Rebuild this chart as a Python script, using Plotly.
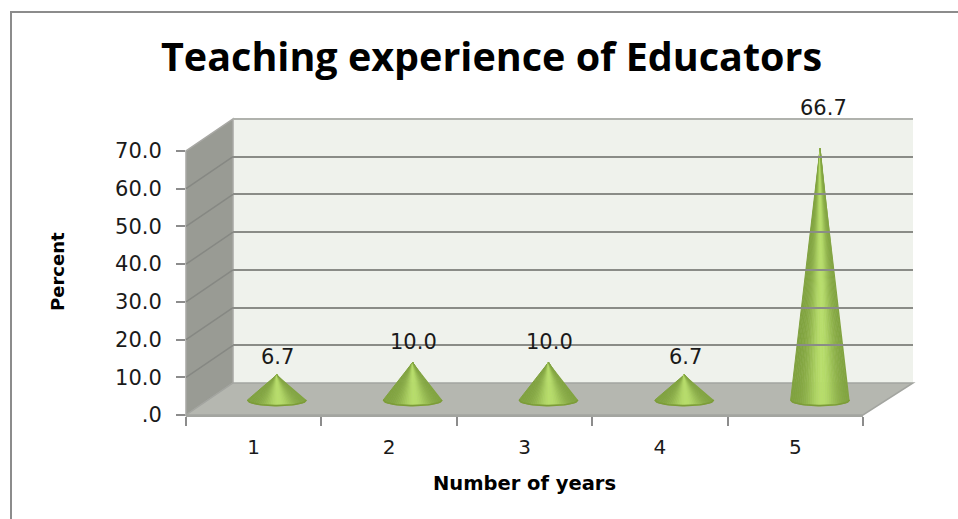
import numpy as np
import plotly.graph_objects as go

categories = ["1", "2", "3", "4", "5"]
percent = [6.7, 10.0, 10.0, 6.7, 66.7]
label_text = ["6.7", "10.0", "10.0", "6.7", "66.7"]
y_ticks = [0, 10, 20, 30, 40, 50, 60, 70]
y_tick_text = [".0", "10.0", "20.0", "30.0", "40.0", "50.0", "60.0", "70.0"]
label_gap_px = [3, 5, 5, 3, 25]

W, H = 958, 519
px = lambda x: x / W
py = lambda y: 1 - y / H

FL, FR, F0, F70 = 186, 863, 415, 151   # front plane
DX, DY = 47, 32                        # depth of the box
GREY_TXT = "#1a1a1a"

fig = go.Figure()

# invisible trace to populate the category axis
fig.add_trace(go.Scatter(x=categories, y=percent, mode="markers",
                         marker=dict(opacity=0), xaxis="x", yaxis="y",
                         hoverinfo="skip", showlegend=False))

# native gridlines on the back wall plane
fig.add_trace(go.Scatter(x=[0], y=[0], mode="markers", marker=dict(opacity=0),
                         xaxis="x3", yaxis="y3", hoverinfo="skip", showlegend=False))

# cones, drawn as shaded strips
HALF_W = 0.217
RY = 1.5
N = 30
edges = np.linspace(-1, 1, N + 1)
centers = (edges[:-1] + edges[1:]) / 2
dark = np.array([128, 162, 64])
light = np.array([184, 222, 108])
for k in range(N):
    t0, t1 = edges[k], edges[k + 1]
    tc = centers[k]
    w = np.exp(-((tc - 0.08) / 0.5) ** 2)
    col = dark + (light - dark) * w
    xs, ys = [], []
    for i, v in enumerate(percent):
        xs += [i + 1, i + 1 + HALF_W * t0, i + 1 + HALF_W * t1, None]
        ys += [v, -RY * np.sqrt(max(0, 1 - t0 ** 2)), -RY * np.sqrt(max(0, 1 - t1 ** 2)), None]
    c = "rgb(%d,%d,%d)" % tuple(col)
    fig.add_trace(go.Scatter(x=xs, y=ys, mode="lines", fill="toself", fillcolor=c,
                             line=dict(width=1, color=c),
                             xaxis="x2", yaxis="y2", hoverinfo="skip", showlegend=False))

# base rim of each cone
tt = np.linspace(-1, 1, 31)
xs, ys = [], []
for i in range(len(percent)):
    xs += list(i + 1 + HALF_W * tt) + [None]
    ys += list(-RY * np.sqrt(1 - tt ** 2)) + [None]
fig.add_trace(go.Scatter(x=xs, y=ys, mode="lines", line=dict(width=1.6, color="#7c9c38"),
                         xaxis="x2", yaxis="y2", hoverinfo="skip", showlegend=False))

# data labels
annotations = []
for i, v in enumerate(percent):
    annotations.append(dict(x=i + 1, y=v, xref="x2", yref="y2", text=label_text[i],
                            showarrow=False, xanchor="center", yanchor="bottom",
                            yshift=label_gap_px[i] + 1, xshift=3 if v > 50 else 1,
                            font=dict(family="DejaVu Sans", size=21, color=GREY_TXT)))

annotations += [
    dict(x=px(491), y=py(56), xref="paper", yref="paper", text="<b>Teaching experience of Educators</b>",
         showarrow=False, xanchor="center", yanchor="middle",
         font=dict(family="Open Sans", size=39.5, color="#000000")),
    dict(x=px(524), y=py(483), xref="paper", yref="paper", text="<b>Number of years</b>",
         showarrow=False, xanchor="center", yanchor="middle",
         font=dict(family="DejaVu Sans", size=19.5, color="#000000")),
    dict(x=px(57), y=py(272), xref="paper", yref="paper", text="<b>Percent</b>", textangle=-90,
         showarrow=False, xanchor="center", yanchor="middle",
         font=dict(family="DejaVu Sans", size=18, color="#000000")),
]

def poly(pts):
    return "M " + " L ".join("%.5f,%.5f" % (px(x), py(y)) for x, y in pts) + " Z"

shapes = [
    # outer frame
    dict(type="path", xref="paper", yref="paper", layer="below",
         path="M %.5f,0 L %.5f,%.5f L 1,%.5f" % (px(11), px(11), py(12), py(12)),
         line=dict(color="#8c8c8c", width=2)),
    # back wall
    dict(type="rect", xref="paper", yref="paper", layer="below",
         x0=px(FL + DX), x1=px(FR + DX + 3), y0=py(F0 - DY), y1=py(F70 - DY),
         fillcolor="#eff2ec", line=dict(width=0)),
    # side wall
    dict(type="path", xref="paper", yref="paper", layer="below",
         path=poly([(FL, F0), (FL + DX, F0 - DY), (FL + DX, F70 - DY), (FL, F70)]),
         fillcolor="#999b94", line=dict(color="#a8a8a4", width=1.5)),
    # floor
    dict(type="path", xref="paper", yref="paper", layer="below",
         path=poly([(FL, F0), (FL + DX, F0 - DY), (FR + DX + 3, F0 - DY), (FR, F0)]),
         fillcolor="#b5b7b0", line=dict(color="#a3a5a0", width=1.5)),
    # lighter top edge of the back wall
    dict(type="line", xref="paper", yref="paper", layer="below",
         x0=px(FL + DX), x1=px(FR + DX + 3), y0=py(F70 - DY), y1=py(F70 - DY),
         line=dict(color="#b0b2ad", width=2)),
]
# side-wall gridlines, one for each axis value
for v in y_ticks[1:-1]:
    y = F0 + (F70 - F0) * v / 70
    shapes.append(dict(type="line", xref="paper", yref="paper", layer="below",
                       x0=px(FL), y0=py(y), x1=px(FL + DX), y1=py(y - DY),
                       line=dict(color="#868883", width=1.5)))

U = (F0 - F70) / 70  # pixels per percent
fig.update_layout(
    width=W, height=H, autosize=False,
    margin=dict(l=0, r=0, t=0, b=0, pad=0, autoexpand=False),
    paper_bgcolor="#ffffff", plot_bgcolor="rgba(0,0,0,0)",
    showlegend=False, annotations=annotations, shapes=shapes,
    xaxis=dict(type="category", categoryorder="array", categoryarray=categories,
               domain=[px(FL), px(FR)], anchor="y", range=[-0.5, 4.5], tickson="boundaries",
               ticks="outside", ticklen=9, tickwidth=2, tickcolor="#8c8c8c",
               showline=True, linecolor="#a3a5a0", linewidth=2, showgrid=False, zeroline=False,
               tickfont=dict(family="DejaVu Sans", size=20, color=GREY_TXT), ticklabelstandoff=13),
    yaxis=dict(domain=[py(F0), py(F70)], anchor="x", range=[0, 70], tickmode="array",
               tickvals=y_ticks, ticktext=y_tick_text, ticks="outside", ticklen=9, tickwidth=2,
               tickcolor="#8c8c8c", showline=False, showgrid=False, zeroline=False,
               tickfont=dict(family="DejaVu Sans", size=21, color=GREY_TXT), ticklabelstandoff=10),
    # mid-depth plane: the cones stand here
    xaxis2=dict(domain=[px(209), px(888)], anchor="y2", range=[0.5, 5.5], visible=False),
    yaxis2=dict(domain=[py(400 + 5 * U), py(400 - 70 * U)], anchor="x2", range=[-5, 70], visible=False),
    # back plane: wall gridlines
    xaxis3=dict(domain=[px(FL + DX), px(FR + DX + 3)], anchor="y3", range=[0, 1], visible=False),
    yaxis3=dict(domain=[py(F0 - DY), py(F70 - DY)], anchor="x3", range=[0, 70], tickmode="array",
                tickvals=y_ticks, showgrid=True, gridcolor="#8a8c87", gridwidth=2, zeroline=False,
                showticklabels=False, ticks="", showline=False),
)

fig.write_html("out.html", post_script="document.body.style.margin='0';",
               config=dict(displayModeBar=False))
